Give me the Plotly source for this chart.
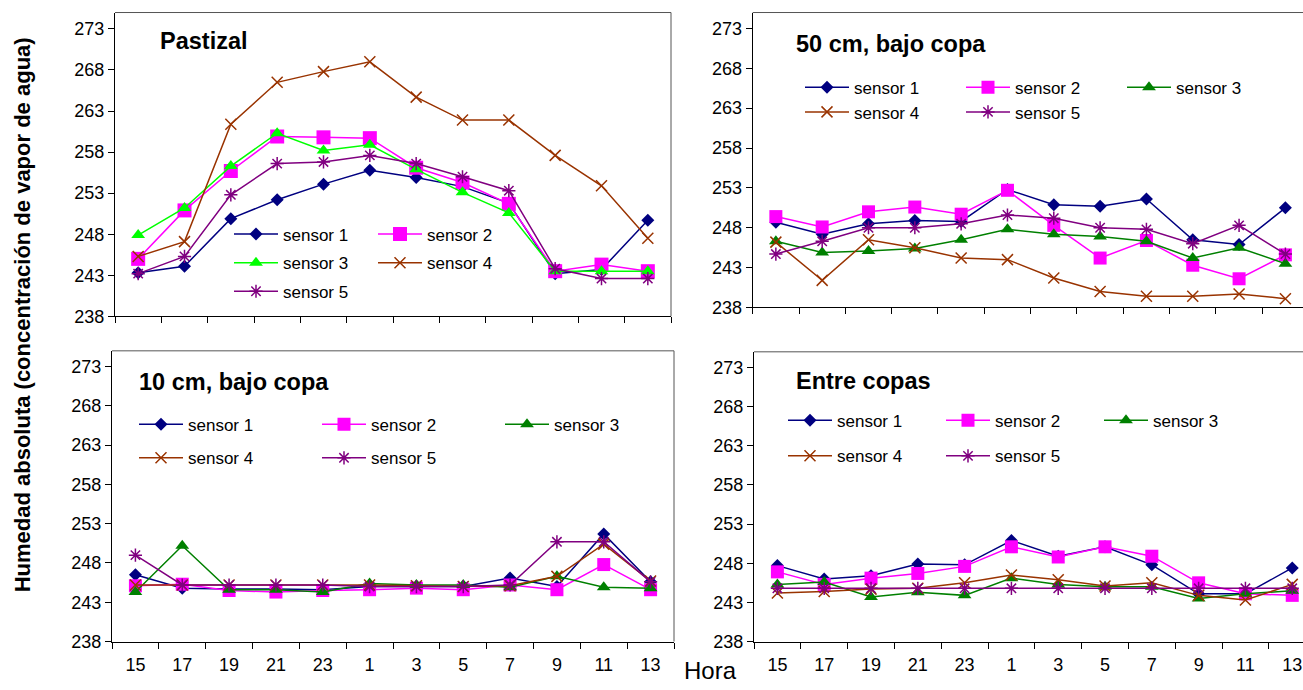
import plotly.graph_objects as go

W, H = 1303, 690

hours = ["15", "17", "19", "21", "23", "1", "3", "5", "7", "9", "11", "13"]
y_ticks = [238, 243, 248, 253, 258, 263, 268, 273]

# Pastizal
pastizal_s1 = [243.3, 244.1, 249.9, 252.2, 254.1, 255.8, 254.9, 253.8, 251.8, 243.2, 243.7, 249.7]
pastizal_s2 = [245.0, 250.9, 255.7, 259.9, 259.8, 259.7, 256.1, 254.3, 251.7, 243.5, 244.3, 243.5]
pastizal_s3 = [247.9, 251.2, 256.3, 260.3, 258.2, 258.9, 255.9, 253.1, 250.6, 243.5, 243.5, 243.5]
pastizal_s4 = [245.3, 247.1, 261.4, 266.5, 267.8, 269.0, 264.7, 261.9, 261.9, 257.6, 253.9, 247.5]
pastizal_s5 = [243.2, 245.3, 252.8, 256.6, 256.8, 257.6, 256.6, 255.0, 253.3, 243.8, 242.6, 242.6]

# 50 cm, bajo copa
c50_s1 = [248.7, 247.2, 248.5, 248.9, 248.8, 252.8, 250.9, 250.7, 251.6, 246.5, 245.9, 250.5]
c50_s2 = [249.4, 248.1, 250.0, 250.6, 249.7, 252.7, 248.3, 244.2, 246.4, 243.3, 241.6, 244.6]
c50_s3 = [246.3, 244.9, 245.1, 245.4, 246.5, 247.8, 247.2, 246.9, 246.3, 244.2, 245.5, 243.5]
c50_s4 = [246.2, 241.4, 246.5, 245.5, 244.2, 244.0, 241.7, 240.0, 239.4, 239.4, 239.7, 239.1]
c50_s5 = [244.7, 246.3, 248.0, 248.0, 248.5, 249.6, 249.2, 248.0, 247.8, 246.0, 248.3, 244.7]

# 10 cm, bajo copa
c10_s1 = [246.5, 244.8, 244.7, 244.7, 244.6, 245.0, 245.0, 245.0, 246.1, 245.0, 251.7, 245.6]
c10_s2 = [245.1, 245.3, 244.5, 244.3, 244.5, 244.6, 244.8, 244.6, 245.2, 244.6, 247.8, 244.6]
c10_s3 = [244.3, 250.2, 244.6, 244.6, 244.3, 245.4, 245.2, 245.2, 244.9, 246.3, 244.9, 244.8]
c10_s4 = [245.2, 245.2, 245.2, 245.2, 245.2, 245.2, 245.1, 245.0, 245.1, 246.3, 250.4, 245.7]
c10_s5 = [249.0, 245.2, 245.2, 245.2, 245.2, 245.0, 245.0, 245.0, 245.2, 250.7, 250.7, 245.6]

# Entre copas
entre_s1 = [247.7, 246.0, 246.4, 247.9, 247.8, 250.9, 248.9, 250.1, 247.8, 244.1, 244.1, 247.4]
entre_s2 = [246.9, 245.3, 246.1, 246.7, 247.6, 250.1, 248.8, 250.1, 248.9, 245.5, 244.1, 243.9]
entre_s3 = [245.3, 245.6, 243.7, 244.3, 243.9, 246.1, 245.3, 245.0, 245.0, 243.5, 244.1, 244.5]
entre_s4 = [244.2, 244.4, 244.7, 244.8, 245.5, 246.5, 245.9, 245.1, 245.5, 243.9, 243.3, 245.3]
entre_s5 = [244.8, 244.8, 244.8, 244.8, 244.8, 244.8, 244.8, 244.8, 244.8, 244.8, 244.8, 244.8]

names = ["sensor 1", "sensor 2", "sensor 3", "sensor 4", "sensor 5"]


def px(x):
    return x / W


def py(y):
    return 1 - y / H


FONT = "Liberation Sans, Arial, sans-serif"
ITEMW = 44

NAVY, MAGENTA, LIME, GREEN, BROWN, PURPLE = (
    "#000080", "#FF00FF", "#00FF00", "#008000", "#993300", "#800080")


def styles(green, sq):
    return [
        dict(color=NAVY, marker=dict(symbol="diamond", size=10, color=NAVY)),
        dict(color=MAGENTA, marker=dict(symbol="square", size=sq, color=MAGENTA)),
        dict(color=green, marker=dict(symbol="triangle-up", size=12, color=green)),
        dict(color=BROWN, marker=dict(symbol="x-thin-open", size=11, color=BROWN,
                                      line=dict(width=1.5, color=BROWN))),
        dict(color=PURPLE, marker=dict(symbol="asterisk-open", size=11, color=PURPLE,
                                       line=dict(width=1.5, color=PURPLE))),
    ]


# per panel: axis suffix, series, green tone, x/y domain (px), x range end,
# title and its position, legend rows, legend start x and column spacing
panels = [
    dict(ax="", series=[pastizal_s1, pastizal_s2, pastizal_s3, pastizal_s4, pastizal_s5],
         green=LIME, sq=14, xd=(115, 671), yd=(12.7, 321), xend=11.5, labels=False,
         title="Pastizal", tpos=(158, 42),
         rows=[(238, [0, 1]), (267, [2, 3]), (296, [4])], lx=234, lsp=144),
    dict(ax="2", series=[c50_s1, c50_s2, c50_s3, c50_s4, c50_s5],
         green=GREEN, sq=13, xd=(752.7, W), yd=(12.7, 312), xend=11.38, labels=False,
         title="50 cm, bajo copa", tpos=(794, 45),
         rows=[(89, [0, 1, 2]), (114, [3, 4])], lx=805, lsp=161),
    dict(ax="3", series=[c10_s1, c10_s2, c10_s3, c10_s4, c10_s5],
         green=GREEN, sq=13, xd=(112, 674), yd=(356, 651), xend=11.5, labels=True,
         title="10 cm, bajo copa", tpos=(137, 388),
         rows=[(431, [0, 1, 2]), (465, [3, 4])], lx=139, lsp=183),
    dict(ax="4", series=[entre_s1, entre_s2, entre_s3, entre_s4, entre_s5],
         green=GREEN, sq=13, xd=(754, W), yd=(357, 651), xend=11.23, labels=True,
         title="Entre copas", tpos=(794, 387),
         rows=[(427, [0, 1, 2]), (463, [3, 4])], lx=788, lsp=158),
]

fig = go.Figure()
layout = dict(
    width=W, height=H, margin=dict(l=0, r=0, t=0, b=0),
    paper_bgcolor="white", plot_bgcolor="white",
    font=dict(family=FONT, size=17, color="black"),
    showlegend=True, annotations=[], shapes=[],
)

legend_count = 0
for p in panels:
    st = styles(p["green"], p["sq"])
    xa, ya = "x" + p["ax"], "y" + p["ax"]
    legend_of = {}
    for ry, idxs in p["rows"]:
        legend_count += 1
        lname = "legend" if legend_count == 1 else f"legend{legend_count}"
        layout[lname] = dict(
            x=px(p["lx"] - 5), y=py(ry), xanchor="left", yanchor="middle",
            orientation="h", bgcolor="rgba(0,0,0,0)", borderwidth=0,
            font=dict(family=FONT, size=17, color="black"),
            entrywidth=p["lsp"] - ITEMW - 15, entrywidthmode="pixels",
            itemwidth=ITEMW, tracegroupgap=0, itemclick=False,
        )
        for i in idxs:
            legend_of[i] = lname
    for i, vals in enumerate(p["series"]):
        s = st[i]
        fig.add_trace(go.Scatter(
            x=hours, y=vals, name=names[i], mode="lines+markers",
            line=dict(color=s["color"], width=1.5), marker=s["marker"],
            xaxis=xa, yaxis=ya, legend=legend_of[i], cliponaxis=False,
        ))

    xkey = "xaxis" + p["ax"]
    ykey = "yaxis" + p["ax"]
    layout[xkey] = dict(
        domain=[px(p["xd"][0]), px(p["xd"][1])], anchor=ya, type="category",
        categoryorder="array", categoryarray=hours,
        range=[-0.5, p["xend"]], showgrid=False, zeroline=False,
        showline=True, linecolor="black", linewidth=1,
        ticks="outside", ticklen=6, tickcolor="black", tickson="boundaries",
        showticklabels=p["labels"], ticklabelstandoff=7,
        tickfont=dict(family=FONT, size=18, color="black"), fixedrange=True,
    )
    layout[ykey] = dict(
        domain=[py(p["yd"][1]), py(p["yd"][0])], anchor=xa,
        range=[238, 275], tickvals=y_ticks, showgrid=False, zeroline=False,
        showline=True, linecolor="black", linewidth=1,
        ticks="outside", ticklen=6, tickcolor="black",
        tickfont=dict(family=FONT, size=18, color="black"), fixedrange=True,
    )
    # plot-area frame: top edge, and right edge where it lies inside the page
    layout["shapes"].append(dict(
        type="line", xref="paper", yref="paper",
        x0=px(p["xd"][0]), x1=px(p["xd"][1]), y0=py(p["yd"][0]), y1=py(p["yd"][0]),
        line=dict(color="#555555", width=1)))
    if p["xd"][1] < W:
        layout["shapes"].append(dict(
            type="line", xref="paper", yref="paper",
            x0=px(p["xd"][1]), x1=px(p["xd"][1]), y0=py(p["yd"][0]), y1=py(p["yd"][1]),
            line=dict(color="#555555", width=1)))
    layout["annotations"].append(dict(
        text=f"<b>{p['title']}</b>", xref="paper", yref="paper",
        x=px(p["tpos"][0]), y=py(p["tpos"][1]), xanchor="left", yanchor="middle",
        showarrow=False, font=dict(family=FONT, size=23.5, color="black")))

layout["annotations"].append(dict(
    text="<b>Humedad absoluta (concentración de vapor de agua)</b>",
    xref="paper", yref="paper", x=px(22), y=py(320), xanchor="center", yanchor="middle",
    textangle=-90, showarrow=False, font=dict(family=FONT, size=22, color="black")))
layout["annotations"].append(dict(
    text="Hora", xref="paper", yref="paper", x=px(710), y=py(680),
    xanchor="center", yanchor="middle", showarrow=False,
    font=dict(family=FONT, size=24, color="black")))

fig.update_layout(**layout)
fig.write_html("out.html")
